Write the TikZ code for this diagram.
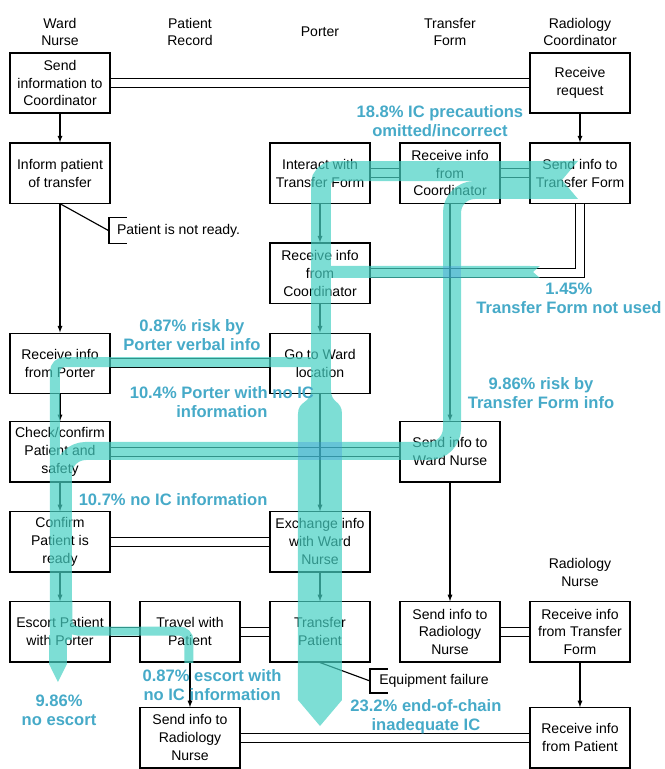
\documentclass[tikz,border=0pt]{standalone}
\usepackage{fontspec}
\setmainfont{Liberation Sans}
\usepackage{tikz}
\usetikzlibrary{arrows.meta, calc}
\definecolor{flowteal}{RGB}{70,208,195}
\definecolor{flowtext}{RGB}{70,170,200}
\definecolor{crossblue}{RGB}{60,150,220}

\begin{document}
\begin{tikzpicture}[
    box/.style={draw, line width=1pt, minimum width=3.08cm, minimum height=1.85cm, align=center, inner sep=1pt, font=\fontsize{12.3}{15.7}\selectfont},
    lane/.style={align=center, font=\fontsize{12.3}{15.7}\selectfont},
    link/.style={double, double distance=0.24cm, line width=1pt},
    flowline/.style={flowteal, line width=#1, line cap=butt},
    risk/.style={align=center, text=flowtext, font=\fontsize{14.5}{16.6}\selectfont\bfseries}
]
    \useasboundingbox (-1.846,2.554) rectangle (18.615,-21.108);
    % lane headings
    \node[lane] (hward) at (0,1.57) {Ward\\Nurse};
    \node[lane] (hrecord) at (4,1.57) {Patient\\Record};
    \node[lane] (hporter) at (8,1.57) {Porter};
    \node[lane] (hform) at (12,1.57) {Transfer\\Form};
    \node[lane] (hcoord) at (16,1.57) {Radiology\\Coordinator};
    \node[lane] (hnurse) at (16,-15.05) {Radiology\\Nurse};
    % row 1
    \node[box] (sendcoord) at (0,0) {Send\\information to\\Coordinator};
    \node[box] (request) at (16,0) {Receive\\request};
    % row 2
    \node[box] (inform) at (0,-2.77) {Inform patient\\of transfer};
    \node[box] (interact) at (8,-2.77) {Interact with\\Transfer Form};
    \node[box] (tfreceive) at (12,-2.77) {Receive info\\from\\Coordinator};
    \node[box] (tfsend) at (16,-2.77) {Send info to\\Transfer Form};
    % row 3
    \node[box] (preceive) at (8,-5.85) {Receive info\\from\\Coordinator};
    % row 4
    \node[box] (fromporter) at (0,-8.62) {Receive info\\from Porter};
    \node[box] (goward) at (8,-8.62) {Go to Ward\\location};
    % row 5
    \node[box] (check) at (0,-11.35) {Check/confirm\\Patient and\\safety};
    \node[box] (tonurse) at (12,-11.35) {Send info to\\Ward Nurse};
    % row 6
    \node[box] (confirm) at (0,-14.12) {Confirm\\Patient is\\ready};
    \node[box] (exchange) at (8,-14.12) {Exchange info\\with Ward\\Nurse};
    % row 7
    \node[box] (escort) at (0,-16.89) {Escort Patient\\with Porter};
    \node[box] (travel) at (4,-16.89) {Travel with\\Patient};
    \node[box] (transfer) at (8,-16.89) {Transfer\\Patient};
    \node[box] (toradio) at (12,-16.89) {Send info to\\Radiology\\Nurse};
    \node[box] (fromform) at (16,-16.89) {Receive info\\from Transfer\\Form};
    % row 8
    \node[box] (sendradio) at (4,-20.15) {Send info to\\Radiology\\Nurse};
    \node[box] (frompatient) at (16,-20.15) {Receive info\\from Patient};
    % two-way exchanges
    \draw[link] (sendcoord) -- (request);
    \draw[link] (interact) -- (tfreceive);
    \draw[link] (tfreceive) -- (tfsend);
    \draw[link] (tfsend.south) |- (preceive.east);
    \draw[link] (fromporter) -- (goward);
    \draw[link] (check) -- (tonurse);
    \draw[link] (confirm) -- (exchange);
    \draw[link] (escort) -- (travel);
    \draw[link] (travel) -- (transfer);
    \draw[link] (toradio) -- (fromform);
    \draw[link] (sendradio) -- (frompatient);
    % sequence
    \draw[-latex, line width=1pt] (sendcoord) -- (inform);
    \draw[-latex, line width=1pt] (request) -- (tfsend);
    \draw[-latex, line width=1pt] (inform) -- (fromporter);
    \draw[-latex, line width=1pt] (fromporter) -- (check);
    \draw[-latex, line width=1pt] (check) -- (confirm);
    \draw[-latex, line width=1pt] (confirm) -- (escort);
    \draw[-latex, line width=1pt] (interact) -- (preceive);
    \draw[-latex, line width=1pt] (preceive) -- (goward);
    \draw[-latex, line width=1pt] (goward) -- (exchange);
    \draw[-latex, line width=1pt] (exchange) -- (transfer);
    \draw[-latex, line width=1pt] (tfreceive) -- (tonurse);
    \draw[-latex, line width=1pt] (tonurse) -- (toradio);
    \draw[-latex, line width=1pt] (fromform) -- (frompatient);
    \draw[-latex, line width=1pt] (travel) -- (sendradio);
    % notes
    \coordinate (nrtip) at (1.51,-4.55);
    \node[lane, anchor=west] (notready) at (1.63,-4.55) {Patient is not ready.};
    \draw[line width=1pt] (inform.south) -- (nrtip);
    \draw[line width=1pt] ($(nrtip)+(0.55,0.4)$) -- ++(-0.55,0) -- ++(0,-0.8) -- ++(0.55,0);
    \coordinate (eftip) at (9.54,-18.4);
    \node[lane, anchor=west] (failure) at (9.7,-18.4) {Equipment failure};
    \draw[line width=1pt] (transfer.south) -- (eftip);
    \draw[line width=1pt] ($(eftip)+(0.55,0.37)$) -- ++(-0.55,0) -- ++(0,-0.74) -- ++(0.55,0);
    % risk flows
    \begin{scope}[transparency group, opacity=0.7]
        \fill[flowteal] (14.923,-2.4) -- (15.938,-2.4) -- (15.446,-2.985) -- (15.938,-3.569) -- (14.923,-3.569) -- cycle;
        \draw[flowline=0.615cm, rounded corners=4mm] (15.077,-2.708) -- (8.031,-2.708) -- (8.031,-9.508);
        \draw[flowline=0.554cm, rounded corners=7mm] (15.077,-3.292) -- (12.062,-3.292) -- (12.062,-11.323) -- (0.092,-11.323) -- (0.092,-17.138);
        \fill[flowteal] (14.308,-5.631) -- (14.769,-5.631) -- (14.554,-5.815) -- (14.769,-6.0) -- (14.308,-6.0) -- cycle;
        \draw[flowline=0.369cm, rounded corners=3mm] (14.462,-5.815) -- (8.031,-5.815) -- (8.031,-6.677);
        \draw[flowline=0.308cm, rounded corners=3mm] (8.031,-8.062) -- (8.031,-8.585) -- (-0.154,-8.585) -- (-0.154,-17.138);
        \draw[flowline=0.277cm, rounded corners=3mm] (0.246,-15.908) -- (0.246,-16.862) -- (3.969,-16.862) -- (3.969,-17.846);
        \fill[flowteal] (-0.338,-16.985) -- (0.215,-16.985) -- (0.215,-17.877) -- (-0.062,-18.431) -- (-0.338,-17.877) -- cycle;
        \fill[flowteal] (7.723,-9.446) .. controls (7.723,-9.877) and (7.323,-9.754) .. (7.323,-10.185) -- (7.323,-18.985) -- (8.0,-19.785) -- (8.677,-18.985) -- (8.677,-10.185) .. controls (8.677,-9.754) and (8.338,-9.877) .. (8.338,-9.446) -- cycle;
    \end{scope}
    \fill[crossblue, opacity=0.35] (7.323,-11.046) rectangle (8.677,-11.6);
    \fill[crossblue, opacity=0.35] (11.785,-5.631) rectangle (12.338,-6.0);
    % risk labels
    \node[risk] (r188) at (11.69,-1.17) {18.8\% IC precautions\\omitted/incorrect};
    \node[risk] (r145) at (15.66,-6.62) {1.45\%\\Transfer Form not used};
    \node[risk] (r986a) at (14.8,-9.54) {9.86\% risk by\\Transfer Form info};
    \node[risk] (r087a) at (4.06,-7.75) {0.87\% risk by\\Porter verbal info};
    \node[risk] (r104) at (4.98,-9.82) {10.4\% Porter with no IC\\information};
    \node[risk] (r107) at (3.48,-12.83) {10.7\% no IC information};
    \node[risk] (r087b) at (4.68,-18.52) {0.87\% escort with\\no IC information};
    \node[risk] (r986b) at (-0.03,-19.29) {9.86\%\\no escort};
    \node[risk] (r232) at (11.26,-19.51) {23.2\% end-of-chain\\inadequate IC};
\end{tikzpicture}
\end{document}
